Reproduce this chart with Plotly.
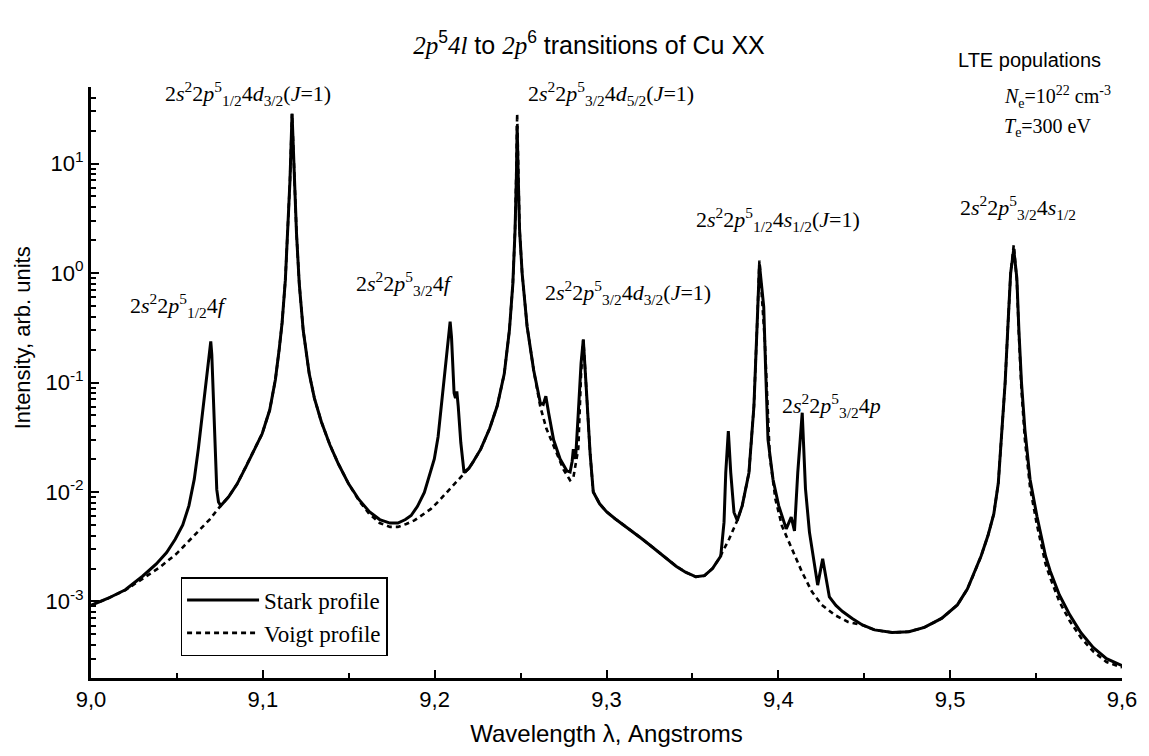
import plotly.graph_objects as go

# (wavelength in Angstrom, intensity in arb. units) along the Stark-broadened spectrum
stark_points = [
    (9.000, 9.2e-4), (9.010, 1.07e-3), (9.020, 1.28e-3), (9.030, 1.7e-3), (9.038, 2.2e-3),
    (9.044, 2.8e-3), (9.049, 3.7e-3), (9.0534, 5.0e-3), (9.057, 7.5e-3), (9.0601, 0.0131),
    (9.0625, 0.025), (9.0649, 0.053), (9.0669, 0.106), (9.0684, 0.17), (9.0697, 0.237),
    (9.0703, 0.18), (9.0709, 0.095), (9.0716, 0.048), (9.0723, 0.0264), (9.0732, 0.0105),
    (9.0742, 8.1e-3), (9.0755, 7.5e-3), (9.080, 9.0e-3), (9.085, 0.0118), (9.090, 0.0168),
    (9.095, 0.024), (9.0996, 0.034), (9.104, 0.056), (9.1073, 0.106), (9.1095, 0.2),
    (9.1112, 0.35), (9.1131, 0.86), (9.1145, 2.3), (9.1158, 7.0), (9.1165, 16.0),
    (9.117, 28.5), (9.1176, 16.0), (9.1184, 7.0), (9.1196, 2.3), (9.1212, 0.8),
    (9.1235, 0.3), (9.127, 0.12), (9.130, 0.072), (9.134, 0.044), (9.139, 0.027),
    (9.144, 0.018), (9.150, 0.0118), (9.156, 8.5e-3), (9.162, 6.6e-3), (9.168, 5.6e-3),
    (9.174, 5.2e-3), (9.1786, 5.2e-3), (9.183, 5.6e-3), (9.1863, 6.1e-3), (9.190, 7.4e-3),
    (9.194, 9.9e-3), (9.197, 0.014), (9.1998, 0.02), (9.202, 0.032), (9.2036, 0.057),
    (9.2052, 0.1), (9.2065, 0.162), (9.208, 0.27), (9.209, 0.36), (9.2098, 0.26),
    (9.2104, 0.162), (9.2113, 0.08), (9.2121, 0.072), (9.2129, 0.083), (9.2137, 0.061),
    (9.2152, 0.0283), (9.2171, 0.015), (9.220, 0.0165), (9.2225, 0.019), (9.2268, 0.0246),
    (9.232, 0.038), (9.2364, 0.061), (9.2405, 0.12), (9.2435, 0.3), (9.2455, 0.8),
    (9.2468, 2.5), (9.2476, 8.0), (9.248, 22.0), (9.2486, 8.0), (9.2494, 2.5),
    (9.2509, 1.0), (9.2538, 0.325), (9.2576, 0.13), (9.2615, 0.065), (9.2632, 0.063),
    (9.2647, 0.075), (9.2663, 0.053), (9.2692, 0.030), (9.273, 0.02), (9.2769, 0.0156),
    (9.2788, 0.0152), (9.2800, 0.019), (9.2807, 0.0246), (9.2820, 0.02), (9.2835, 0.05),
    (9.2852, 0.15), (9.2865, 0.246), (9.2875, 0.15), (9.2884, 0.08), (9.2905, 0.022),
    (9.2923, 0.01), (9.296, 7.8e-3), (9.300, 6.6e-3), (9.305, 5.7e-3), (9.310, 5.0e-3),
    (9.315, 4.4e-3), (9.320, 3.8e-3), (9.325, 3.3e-3), (9.330, 2.85e-3), (9.335, 2.45e-3),
    (9.3405, 2.1e-3), (9.346, 1.85e-3), (9.352, 1.68e-3), (9.357, 1.72e-3), (9.3617, 2.0e-3),
    (9.3665, 2.6e-3), (9.3684, 5.3e-3), (9.3694, 0.015), (9.3709, 0.036), (9.3723, 0.015),
    (9.3742, 6.5e-3), (9.3761, 5.5e-3), (9.379, 7.5e-3), (9.3829, 0.015), (9.3858, 0.061),
    (9.3877, 0.35), (9.3885, 0.8), (9.389, 1.2), (9.3898, 0.9), (9.3915, 0.49),
    (9.3927, 0.12), (9.394, 0.03), (9.3969, 0.013), (9.4002, 7.5e-3), (9.4046, 4.6e-3),
    (9.4075, 5.9e-3), (9.4094, 4.4e-3), (9.4113, 0.015), (9.4139, 0.053), (9.4158, 0.0107),
    (9.4181, 4.3e-3), (9.4229, 1.41e-3), (9.4258, 2.46e-3), (9.4273, 1.86e-3), (9.4297, 1.1e-3),
    (9.4335, 9.2e-4), (9.4374, 8.1e-4), (9.443, 7.0e-4), (9.4489, 6.1e-4), (9.456, 5.5e-4),
    (9.4663, 5.2e-4), (9.476, 5.3e-4), (9.485, 5.8e-4), (9.495, 7.0e-4), (9.5042, 9.3e-4),
    (9.510, 1.3e-3), (9.5139, 1.8e-3), (9.518, 2.6e-3), (9.522, 4.0e-3), (9.5254, 6.3e-3),
    (9.528, 0.012), (9.5305, 0.04), (9.532, 0.1), (9.5337, 0.35), (9.5352, 1.0),
    (9.537, 1.65), (9.5388, 0.9), (9.540, 0.3), (9.5415, 0.1), (9.5435, 0.037),
    (9.5465, 0.013), (9.5505, 6.0e-3), (9.5555, 2.6e-3), (9.5582, 1.9e-3), (9.5635, 1.15e-3),
    (9.5697, 7.5e-4), (9.576, 5.2e-4), (9.5832, 3.8e-4), (9.591, 3.0e-4), (9.600, 2.6e-4),
]

# (wavelength in Angstrom, intensity in arb. units) along the Voigt spectrum
voigt_points = [
    (9.000, 9.2e-4), (9.010, 1.07e-3), (9.020, 1.27e-3), (9.030, 1.6e-3), (9.040, 2.05e-3),
    (9.050, 2.75e-3), (9.0573, 3.6e-3), (9.063, 4.4e-3), (9.069, 5.6e-3), (9.0755, 7.5e-3),
    (9.080, 9.0e-3), (9.085, 0.0118), (9.090, 0.0168), (9.095, 0.024), (9.0996, 0.034),
    (9.104, 0.056), (9.1073, 0.106), (9.1095, 0.2), (9.1112, 0.35), (9.1131, 0.86),
    (9.1145, 2.3), (9.1158, 7.0), (9.1165, 16.0), (9.117, 28.5), (9.1176, 16.0),
    (9.1184, 7.0), (9.1196, 2.3), (9.1212, 0.8), (9.1235, 0.3), (9.127, 0.12),
    (9.130, 0.072), (9.134, 0.044), (9.139, 0.027), (9.144, 0.018), (9.150, 0.0118),
    (9.156, 8.3e-3), (9.162, 6.3e-3), (9.168, 5.2e-3), (9.174, 4.8e-3), (9.1786, 4.8e-3),
    (9.1835, 5.1e-3), (9.1882, 5.5e-3), (9.193, 6.2e-3), (9.1978, 7.0e-3), (9.2025, 8.3e-3),
    (9.2075, 0.0101), (9.212, 0.0123), (9.2171, 0.015), (9.220, 0.0165), (9.2225, 0.019),
    (9.2268, 0.0246), (9.232, 0.038), (9.2364, 0.061), (9.2405, 0.12), (9.2435, 0.3),
    (9.2455, 0.8), (9.2468, 2.5), (9.2476, 10.0), (9.248, 28.5), (9.2486, 10.0),
    (9.2494, 2.5), (9.2509, 1.0), (9.2538, 0.325), (9.2576, 0.13), (9.2615, 0.06),
    (9.265, 0.038), (9.2692, 0.026), (9.275, 0.016), (9.2788, 0.0128), (9.2807, 0.0135),
    (9.2836, 0.025), (9.2852, 0.12), (9.2865, 0.246), (9.2875, 0.15), (9.2884, 0.08),
    (9.2905, 0.022), (9.2923, 0.01), (9.296, 7.8e-3), (9.300, 6.6e-3), (9.305, 5.7e-3),
    (9.310, 5.0e-3), (9.315, 4.4e-3), (9.320, 3.8e-3), (9.325, 3.3e-3), (9.330, 2.85e-3),
    (9.335, 2.45e-3), (9.3405, 2.1e-3), (9.346, 1.85e-3), (9.352, 1.68e-3), (9.357, 1.72e-3),
    (9.3617, 2.0e-3), (9.3655, 2.46e-3), (9.3713, 3.7e-3), (9.3761, 5.5e-3), (9.379, 7.5e-3),
    (9.3829, 0.015), (9.3858, 0.061), (9.3877, 0.35), (9.3885, 0.8), (9.389, 1.3),
    (9.3898, 0.85), (9.3921, 0.246), (9.395, 0.0214), (9.3983, 8.6e-3), (9.4021, 4.9e-3),
    (9.4079, 3.0e-3), (9.4137, 1.87e-3), (9.4195, 1.23e-3), (9.4253, 9.3e-4), (9.433, 7.5e-4),
    (9.4406, 6.5e-4), (9.4489, 6.1e-4), (9.456, 5.5e-4), (9.4663, 5.2e-4), (9.476, 5.3e-4),
    (9.485, 5.8e-4), (9.495, 7.0e-4), (9.5042, 9.3e-4), (9.510, 1.3e-3), (9.5139, 1.8e-3),
    (9.518, 2.6e-3), (9.522, 4.0e-3), (9.5254, 6.3e-3), (9.528, 0.012), (9.5305, 0.04),
    (9.532, 0.1), (9.5337, 0.35), (9.5352, 1.0), (9.537, 1.8), (9.5388, 0.85),
    (9.540, 0.27), (9.5415, 0.085), (9.5435, 0.03), (9.5465, 0.011), (9.5505, 5.0e-3),
    (9.5555, 2.2e-3), (9.5582, 1.65e-3), (9.5635, 1.0e-3), (9.5697, 6.6e-4), (9.576, 4.7e-4),
    (9.5832, 3.5e-4), (9.591, 2.8e-4), (9.600, 2.5e-4),
]

stark_wl = [p[0] for p in stark_points]
stark_int = [p[1] for p in stark_points]
voigt_wl = [p[0] for p in voigt_points]
voigt_int = [p[1] for p in voigt_points]

x_tickvals = [9.0, 9.1, 9.2, 9.3, 9.4, 9.5, 9.6]
x_ticktext = ["9,0", "9,1", "9,2", "9,3", "9,4", "9,5", "9,6"]
y_tickvals = [1e-3, 1e-2, 1e-1, 1e0, 1e1]
y_ticktext = ["10<sup>-3</sup>", "10<sup>-2</sup>", "10<sup>-1</sup>", "10<sup>0</sup>", "10<sup>1</sup>"]
y_minor = [m * 10.0 ** e for e in range(-4, 2) for m in range(2, 10)]

SANS = "Liberation Sans, Arial, sans-serif"
SERIF = "Liberation Serif, Times New Roman, serif"

W, H = 1149, 756
L, R, T, B = 91, 1127, 87, 678


def px(x):
    return (x - L) / (R - L)


def py(y):
    return (B - y) / (B - T)


fig = go.Figure()
fig.add_trace(go.Scatter(
    x=stark_wl, y=stark_int, mode="lines", name="Stark profile",
    line=dict(color="black", width=3),
))
fig.add_trace(go.Scatter(
    x=voigt_wl, y=voigt_int, mode="lines", name="Voigt profile",
    line=dict(color="black", width=2.6, dash="5px,4px"),
))


def conf(j_sub, orb, orb_sub=None, with_j=False):
    s = ("2<i>s</i><sup>2</sup>2<i>p</i><sup>5</sup><sub>" + j_sub + "</sub>4<i>" + orb + "</i>")
    if orb_sub:
        s += "<sub>" + orb_sub + "</sub>"
    if with_j:
        s += "(<i>J</i>=1)"
    return s


labels = [
    (conf("1/2", "d", "3/2", True), 163, 93),
    (conf("3/2", "d", "5/2", True), 528, 93),
    (conf("1/2", "f"), 128, 305),
    (conf("3/2", "f"), 355, 283),
    (conf("3/2", "d", "3/2", True), 545, 292),
    (conf("1/2", "s", "1/2", True), 697, 220),
    (conf("3/2", "p"), 783, 405),
    (conf("3/2", "s", "1/2"), 962, 207),
]
for text, x0, y0 in labels:
    fig.add_annotation(
        text=text, xref="paper", yref="paper", x=px(x0), y=py(y0),
        xanchor="left", yanchor="middle", showarrow=False,
        font=dict(family=SERIF, size=22, color="black"),
    )

fig.add_annotation(
    text="LTE populations", xref="paper", yref="paper", x=px(1108), y=py(60),
    xanchor="right", yanchor="middle", showarrow=False,
    font=dict(family=SANS, size=20, color="black"),
)
fig.add_annotation(
    text="<i>N</i><sub>e</sub>=10<sup>22</sup> cm<sup>-3</sup>", xref="paper", yref="paper",
    x=px(1006), y=py(97), xanchor="left", yanchor="middle", showarrow=False,
    font=dict(family=SERIF, size=20, color="black"),
)
fig.add_annotation(
    text="<i>T</i><sub>e</sub>=300 eV", xref="paper", yref="paper",
    x=px(1006), y=py(127), xanchor="left", yanchor="middle", showarrow=False,
    font=dict(family=SERIF, size=20, color="black"),
)

fig.add_annotation(
    text="Intensity, arb. units", xref="paper", yref="paper",
    x=px(22), y=py(338), xanchor="center", yanchor="middle", textangle=-90,
    showarrow=False, font=dict(family=SANS, size=22, color="black"),
)

title_text = (
    "<span style='font-family:Liberation Serif'><i>2p</i></span><sup>5</sup>"
    "<span style='font-family:Liberation Serif'><i>4l</i></span> to "
    "<span style='font-family:Liberation Serif'><i>2p</i></span><sup>6</sup> transitions of Cu XX"
)

fig.update_layout(
    width=W, height=H,
    margin=dict(l=L, r=W - R, t=T, b=H - B),
    paper_bgcolor="white", plot_bgcolor="white",
    title=dict(
        text=title_text, xref="container", yref="container",
        x=589 / W, y=1 - 45 / H, xanchor="center", yanchor="middle",
        font=dict(family=SANS, size=25, color="black"),
    ),
    legend=dict(
        x=px(181), y=py(577), xanchor="left", yanchor="top",
        bordercolor="black", borderwidth=1.5, bgcolor="white",
        font=dict(family=SERIF, size=23, color="black"),
        itemwidth=72, tracegroupgap=0,
    ),
    xaxis=dict(
        range=[9.0, 9.6], tickvals=x_tickvals, ticktext=x_ticktext,
        showgrid=False, zeroline=False, showline=True, linecolor="black", linewidth=3,
        ticks="inside", ticklen=8, tickwidth=2, tickcolor="black",
        minor=dict(dtick=0.05, ticks="inside", ticklen=5, tickwidth=2, tickcolor="black", showgrid=False),
        tickfont=dict(family=SANS, size=22, color="black"),
        title=dict(text="Wavelength λ, Angstroms", standoff=14,
                   font=dict(family=SANS, size=24, color="black")),
    ),
    yaxis=dict(
        type="log", range=[-3.699, 1.699], tickvals=y_tickvals, ticktext=y_ticktext,
        showgrid=False, zeroline=False, showline=True, linecolor="black", linewidth=3,
        ticks="inside", ticklen=8, tickwidth=2, tickcolor="black",
        minor=dict(tickvals=y_minor, ticks="inside", ticklen=5, tickwidth=1.5, tickcolor="black", showgrid=False),
        tickfont=dict(family=SANS, size=22, color="black"),
    ),
)

fig.write_html("out.html")
